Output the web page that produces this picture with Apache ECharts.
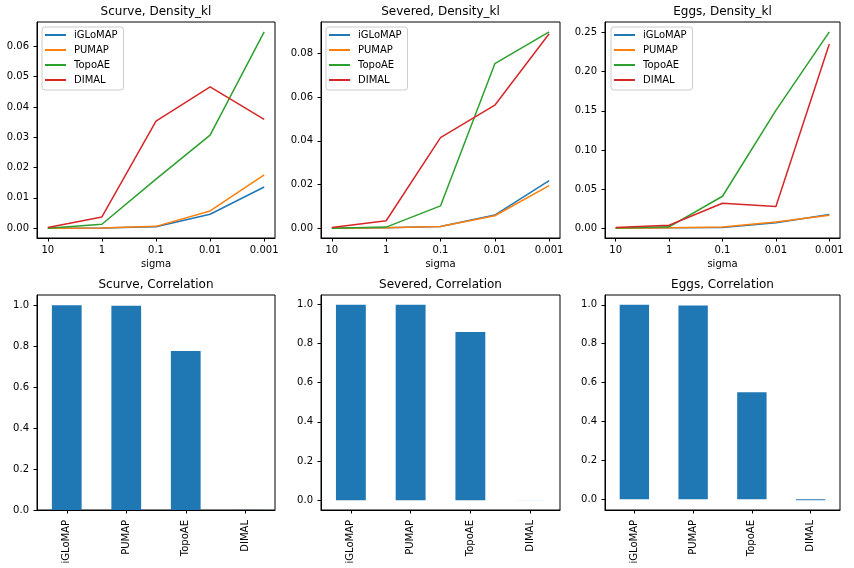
<!DOCTYPE html>
<html><head><meta charset="utf-8">
<script src="https://cdn.jsdelivr.net/npm/echarts@6/dist/echarts.min.js"></script>
<style>html,body{margin:0;padding:0;background:#fff}#c{width:854px;height:568px}</style>
</head><body><div id="c"></div>
<script>
// ---------- data ----------
const sigmaLabels = ['10', '1', '0.1', '0.01', '0.001'];
const methods = ['iGLoMAP', 'PUMAP', 'TopoAE', 'DIMAL'];

const scurve_iGLoMAP = [0.0, 0.0001, 0.0005, 0.0046, 0.0136];
const scurve_PUMAP   = [0.0, 0.0001, 0.0006, 0.0057, 0.0176];
const scurve_TopoAE  = [0.0, 0.0013, 0.0162, 0.0307, 0.0648];
const scurve_DIMAL   = [0.0002, 0.0037, 0.0353, 0.0466, 0.0359];

const severed_iGLoMAP = [0.0, 0.0002, 0.0008, 0.0060, 0.0218];
const severed_PUMAP   = [0.0, 0.0002, 0.0008, 0.0057, 0.0195];
const severed_TopoAE  = [0.0, 0.0005, 0.0102, 0.0753, 0.0899];
const severed_DIMAL   = [0.0003, 0.0034, 0.0415, 0.0563, 0.0890];

const eggs_iGLoMAP = [0.0, 0.0005, 0.0010, 0.0068, 0.0174];
const eggs_PUMAP   = [0.0, 0.0005, 0.0015, 0.0080, 0.0166];
const eggs_TopoAE  = [0.0003, 0.0017, 0.0408, 0.1505, 0.2510];
const eggs_DIMAL   = [0.0010, 0.0038, 0.0319, 0.0276, 0.2355];

const scurveCorr  = [1.000, 0.997, 0.777, 0.0005];
const severedCorr = [0.997, 0.997, 0.858, -0.0003];
const eggsCorr    = [1.000, 0.996, 0.550, -0.005];

const scurveTicks  = [0, 0.01, 0.02, 0.03, 0.04, 0.05, 0.06];
const severedTicks = [0, 0.02, 0.04, 0.06, 0.08];
const eggsTicks    = [0, 0.05, 0.10, 0.15, 0.20, 0.25];
const corrTicks    = [0, 0.2, 0.4, 0.6, 0.8, 1.0];
const sigmaTickPos = [0, 1, 2, 3, 4];

const titles = ['Scurve, Density_kl', 'Severed, Density_kl', 'Eggs, Density_kl',
                'Scurve, Correlation', 'Severed, Correlation', 'Eggs, Correlation'];

// ---------- styles / layout ----------
const FONT = 'DejaVu Sans';
const COLORS = ['#1f77b4', '#ff7f0e', '#2ca02c', '#d62728'];
const grids = [
  {left: 37,  top: 22,  width: 238, height: 216},
  {left: 321, top: 22,  width: 239, height: 216},
  {left: 605, top: 22,  width: 235, height: 216},
  {left: 37,  top: 295, width: 238, height: 215},
  {left: 321, top: 295, width: 239, height: 215},
  {left: 605, top: 295, width: 235, height: 215}
];
const legendPos = [{left: 42, top: 27}, {left: 326, top: 27}, {left: 611, top: 27}];

function lims(vals, sticky) {
  let lo = Math.min(...vals), hi = Math.max(...vals);
  if (sticky) { lo = Math.min(lo, 0); hi = Math.max(hi, 0); }
  const m = 0.05 * (hi - lo);
  return [sticky && lo === 0 ? 0 : lo - m, sticky && hi === 0 ? 0 : hi + m];
}

const lineSets = [
  [scurve_iGLoMAP, scurve_PUMAP, scurve_TopoAE, scurve_DIMAL],
  [severed_iGLoMAP, severed_PUMAP, severed_TopoAE, severed_DIMAL],
  [eggs_iGLoMAP, eggs_PUMAP, eggs_TopoAE, eggs_DIMAL]
];
const lineTicks = [scurveTicks, severedTicks, eggsTicks];
const corrSets = [scurveCorr, severedCorr, eggsCorr];

const txt = {color: '#000', fontSize: 10, fontFamily: FONT};
const xAxes = [], yAxes = [], series = [], legends = [], graphics = [];

lineSets.forEach((set, g) => {
  const all = [].concat(...set);
  const [lo, hi] = lims(all, false);
  xAxes.push({
    gridIndex: g, type: 'value', min: -0.2, max: 4.2,
    axisLine: {show: true, onZero: false, lineStyle: {color: '#000', width: 1}},
    axisTick: {show: true, length: 3.5, customValues: sigmaTickPos, lineStyle: {color: '#000'}},
    axisLabel: Object.assign({customValues: sigmaTickPos, margin: 7,
      formatter: v => sigmaLabels[Math.round(v)]}, txt),
    splitLine: {show: false},
    name: 'sigma', nameLocation: 'middle', nameGap: 21,
    nameTextStyle: {color: '#000', fontSize: 10, fontFamily: FONT}
  });
  yAxes.push({
    gridIndex: g, type: 'value', min: lo, max: hi,
    axisLine: {show: true, onZero: false, lineStyle: {color: '#000', width: 1}},
    axisTick: {show: true, length: 3.5, customValues: lineTicks[g], lineStyle: {color: '#000'}},
    axisLabel: Object.assign({customValues: lineTicks[g], margin: 8,
      formatter: v => v.toFixed(2)}, txt),
    splitLine: {show: false}
  });
  set.forEach((arr, k) => {
    series.push({
      type: 'line', name: methods[k], xAxisIndex: g, yAxisIndex: g,
      data: arr.map((v, i) => [i, v]), symbol: 'none', showSymbol: false,
      lineStyle: {width: 1.5, color: COLORS[k]}, itemStyle: {color: COLORS[k]},
      z: 2 + k
    });
  });
  legends.push({
    left: legendPos[g].left, top: legendPos[g].top, orient: 'vertical',
    data: methods, icon: 'rect', itemWidth: 21, itemHeight: 2, itemGap: 5,
    padding: [3, 6, 5, 3], borderColor: '#cccccc', borderWidth: 1, borderRadius: 3,
    backgroundColor: 'rgba(255,255,255,0.8)', selectedMode: false,
    textStyle: {color: '#000', fontSize: 10, fontFamily: FONT, padding: [0, 0, 0, 3]}
  });
});

corrSets.forEach((vals, j) => {
  const g = 3 + j;
  const [lo, hi] = lims(vals, true);
  xAxes.push({
    gridIndex: g, type: 'category', data: methods, boundaryGap: true,
    axisLine: {show: true, onZero: false, lineStyle: {color: '#000', width: 1}},
    axisTick: {show: true, length: 3.5, alignWithLabel: true, lineStyle: {color: '#000'}},
    axisLabel: Object.assign({rotate: 90, interval: 0, margin: 10}, txt),
    splitLine: {show: false}
  });
  yAxes.push({
    gridIndex: g, type: 'value', min: lo, max: hi,
    axisLine: {show: true, onZero: false, lineStyle: {color: '#000', width: 1}},
    axisTick: {show: true, length: 3.5, customValues: corrTicks, lineStyle: {color: '#000'}},
    axisLabel: Object.assign({customValues: corrTicks, margin: 8,
      formatter: v => v.toFixed(1)}, txt),
    splitLine: {show: false}
  });
  series.push({
    type: 'bar', name: 'Correlation', xAxisIndex: g, yAxisIndex: g,
    data: vals, barWidth: '50%', itemStyle: {color: '#1f77b4'}
  });
});

grids.forEach((gr, i) => {
  graphics.push({
    type: 'text', x: gr.left + gr.width / 2, y: gr.top - 10,
    style: {text: titles[i], fill: '#000', font: '12px "DejaVu Sans"',
            textAlign: 'center', textVerticalAlign: 'middle'}
  });
});

const chart = echarts.init(document.getElementById('c'), null, {renderer: 'canvas'});
chart.setOption({
  animation: false,
  backgroundColor: '#fff',
  grid: grids.map(g => Object.assign({show: true, borderColor: '#000', borderWidth: 1,
    containLabel: false}, g)),
  xAxis: xAxes, yAxis: yAxes, legend: legends, series: series, graphic: graphics
});
</script></body></html>
